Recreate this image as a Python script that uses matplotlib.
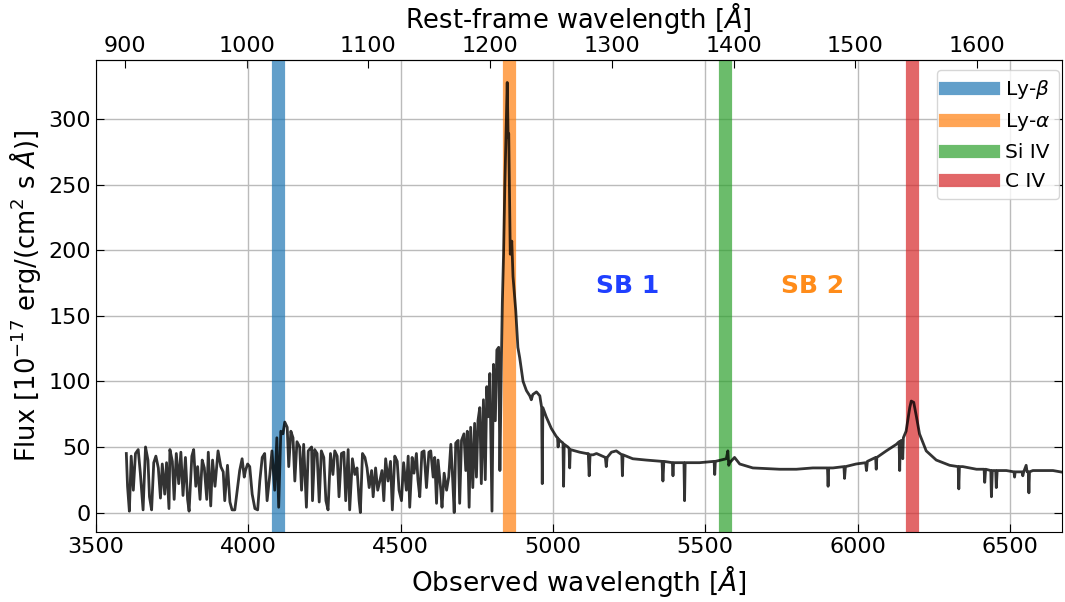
import numpy as np
import matplotlib.pyplot as plt

# observed wavelength [A] and flux [1e-17 erg/(cm2 s A)]
wave = [3600, 3604, 3610, 3616, 3623, 3630, 3639, 3646, 3655, 3663, 3671, 3676, 3683,
        3690, 3697, 3705, 3712, 3718, 3726, 3732, 3740, 3743, 3751, 3757, 3764, 3772,
        3779, 3786, 3794, 3801, 3806, 3815, 3821, 3828, 3834, 3842, 3849, 3856, 3864,
        3869, 3877, 3883, 3891, 3901, 3910, 3918, 3923, 3932, 3940, 3947, 3956, 3965,
        3972, 3980, 3987, 3991, 3998, 4005, 4013, 4022, 4031, 4038, 4046, 4054, 4062,
        4071, 4078, 4087, 4094, 4100, 4107, 4114, 4120, 4128, 4133, 4140, 4147, 4153,
        4160, 4169, 4175, 4182, 4191, 4197, 4208, 4211, 4218, 4226, 4233, 4240, 4248,
        4255, 4262, 4270, 4278, 4284, 4292, 4298, 4306, 4314, 4320, 4328, 4333, 4342,
        4350, 4357, 4364, 4368, 4375, 4383, 4390, 4397, 4405, 4410, 4418, 4425, 4432,
        4439, 4445, 4451, 4459, 4467, 4473, 4481, 4489, 4495, 4503, 4510, 4519, 4525,
        4530, 4538, 4544, 4552, 4557, 4563, 4570, 4577, 4585, 4593, 4599, 4607, 4612,
        4618, 4623, 4632, 4636, 4643, 4651, 4658, 4665, 4670, 4676, 4681, 4689, 4694,
        4700, 4708, 4714, 4719, 4725, 4730, 4737, 4743, 4749, 4754, 4760, 4765, 4772,
        4778, 4783, 4787, 4793, 4800, 4805, 4811, 4816, 4822, 4826, 4831,
        4834, 4838, 4842, 4847, 4850, 4853, 4855, 4857, 4860, 4865, 4869, 4878, 4885,
        4891, 4902, 4913, 4924, 4929, 4934, 4946, 4957, 4963, 4965, 4967, 4978, 4995,
        5011, 5015, 5017, 5019, 5022, 5033, 5035, 5037, 5049, 5053, 5055, 5057, 5088,
        5110, 5116, 5119, 5122, 5132, 5143, 5172, 5175, 5178, 5192, 5208, 5226, 5228,
        5230, 5262, 5306, 5358, 5361, 5364, 5392, 5394, 5396, 5430, 5432, 5434, 5481,
        5529, 5531, 5533, 5569, 5574, 5577, 5580, 5596, 5613, 5656, 5744, 5799, 5853,
        5901, 5903, 5905, 5919, 5955, 5957, 5960, 5995, 6026, 6029, 6032, 6050, 6059,
        6061, 6063, 6094, 6127, 6136, 6138, 6140, 6143, 6146, 6148, 6150, 6159, 6171,
        6176, 6184, 6193, 6203, 6225, 6258, 6302, 6330, 6332, 6334, 6345, 6390, 6415,
        6417, 6420, 6437, 6439, 6442, 6453, 6455, 6458, 6488, 6513, 6515, 6517, 6540,
        6542, 6545, 6553, 6556, 6560, 6562, 6564, 6575, 6641, 6690]
flux = [45, 20, 1, 43, 17, 45, 48, 30, 2, 50, 40, 12, 2,
        38, 43, 34, 11, 37, 14, 38, 3, 48, 39, 10, 45, 22,
        46, 13, 42, 10, 1, 43, 48, 20, 35, 10, 40, 34, 10,
        46, 5, 40, 20, 47, 35, 31, 9, 36, 8, 2, 2, 19,
        32, 41, 27, 32, 37, 35, 14, 3, 2, 24, 42, 45, 9,
        29, 47, 17, 57, 4, 62, 60, 69, 65, 35, 62, 57, 24,
        54, 50, 17, 52, 4, 47, 50, 9, 48, 45, 8, 47, 42,
        9, 2, 45, 29, 47, 43, 12, 45, 46, 9, 48, 2, 41,
        29, 34, 9, 0, 45, 42, 34, 19, 32, 12, 34, 17, 24,
        32, 9, 41, 24, 39, 2, 43, 39, 17, 9, 38, 17, 43,
        4, 42, 30, 45, 25, 12, 46, 47, 19, 46, 47, 27, 42,
        7, 40, 17, 4, 30, 17, 27, 52, 30, 0, 53, 55, 7,
        55, 60, 32, 62, 4, 65, 19, 68, 27, 70, 80, 22, 86,
        25, 96, 73, 106, 1, 113, 70, 124, 126, 32, 118,
        160, 197, 248, 299, 328, 286, 289, 251, 197, 207, 180, 154, 126,
        118, 100, 93, 89, 86, 90, 92, 89, 80, 22, 80, 73, 64,
        58, 57, 50, 56, 55, 53, 20, 52, 50, 49, 34, 48, 46,
        45, 45, 28, 44, 44, 45, 42, 35, 42, 46, 47, 44, 28,
        44, 41, 40, 39, 24, 39, 38, 28, 38, 38, 9, 38, 38,
        39, 29, 39, 41, 47, 36, 38, 42, 37, 34, 33, 33, 34,
        34, 20, 34, 34, 35, 26, 35, 37, 38, 32, 39, 41, 42,
        33, 42, 47, 52, 54, 32, 54, 55, 50, 41, 57, 62, 80,
        85, 84, 73, 60, 47, 40, 36, 35, 18, 35, 35, 33, 33,
        23, 33, 32, 12, 32, 32, 19, 32, 32, 31, 27, 31, 31,
        28, 31, 36, 31, 31, 15, 31, 32, 32, 30]

z = 2.995
line_names = [r'Ly-$\beta$', r'Ly-$\alpha$', 'Si IV', 'C IV']
line_rest = [1025.7, 1215.7, 1393.0, 1546.5]
line_colors = ['tab:blue', 'tab:orange', 'tab:green', 'tab:red']
rest_ticks = [900, 1000, 1100, 1200, 1300, 1400, 1500, 1600]

fig = plt.figure(figsize=(10.65, 6.02), dpi=100)
ax = fig.add_axes([0.090, 0.116, 0.907, 0.784])

for name, lr, c in zip(line_names, line_rest, line_colors):
    ax.axvline(lr * (1 + z), color=c, lw=9.5, alpha=0.7, label=name, zorder=1)

ax.plot(wave, flux, color='k', alpha=0.8, lw=2.0, zorder=3)

ax.text(5245, 173, 'SB 1', color='#1f3fff', fontsize=18, fontweight='bold',
        ha='center', va='center')
ax.text(5852, 173, 'SB 2', color='#ff8c1a', fontsize=18, fontweight='bold',
        ha='center', va='center')

ax.set_xlim(3500, 6670)
ax.set_ylim(-15, 345)
ax.grid(True, color='#bbbbbb', lw=1)
ax.set_axisbelow(True)
ax.tick_params(direction='in', labelsize=16, right=True, length=6)
ax.set_xlabel(r'Observed wavelength [$\AA$]', fontsize=19)
ax.set_ylabel(r'Flux [$10^{-17}$ erg/(cm$^2$ s $\AA$)]', fontsize=18.5)

top = ax.secondary_xaxis('top', functions=(lambda x: x / (1 + z), lambda x: x * (1 + z)))
top.set_xticks(rest_ticks)
top.tick_params(direction='in', labelsize=16, length=6, pad=3)
top.set_xlabel(r'Rest-frame wavelength [$\AA$]', fontsize=18.5, labelpad=6)

ax.legend(loc='upper right', bbox_to_anchor=(0.997, 0.979), borderaxespad=0,
          fontsize=14.5, handlelength=2.4, handletextpad=0.6)

fig.savefig('out.png', dpi=100)
